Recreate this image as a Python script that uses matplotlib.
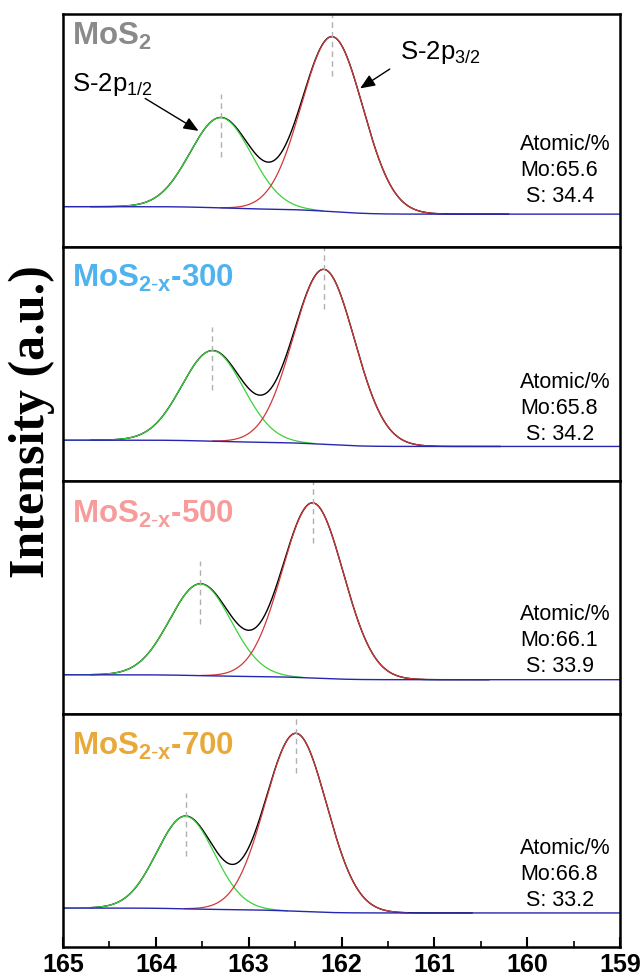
import matplotlib
matplotlib.use("Agg")
import matplotlib.pyplot as plt
from matplotlib.ticker import MultipleLocator
import numpy as np

plt.rcParams['font.family'] = ['Liberation Sans', 'DejaVu Sans']
plt.rcParams['mathtext.fontset'] = 'custom'
plt.rcParams['mathtext.rm'] = 'Liberation Sans'
plt.rcParams['mathtext.bf'] = 'Liberation Sans:bold'
plt.rcParams['mathtext.it'] = 'Liberation Sans:italic'

# --- data (binding energy in eV, intensity in a.u.) ---
sample_labels = [r"MoS$_{\mathbf{2}}$",
                 r"MoS$_{\mathbf{2\text{-}x}}$-300",
                 r"MoS$_{\mathbf{2\text{-}x}}$-500",
                 r"MoS$_{\mathbf{2\text{-}x}}$-700"]
label_colors = ["#8a8a8a", "#4fb3f0", "#f79b9b", "#e9a93a"]

p12_center = [163.30, 163.39, 163.52, 163.68]   # S-2p1/2
p12_height = [0.387, 0.388, 0.393, 0.397]
p12_sigma = [0.33, 0.33, 0.33, 0.31]
p32_center = [162.10, 162.19, 162.31, 162.49]   # S-2p3/2
p32_height = [0.750, 0.750, 0.751, 0.763]
p32_sigma = [0.33, 0.33, 0.33, 0.33]
bg_high = [0.174, 0.173, 0.167, 0.167]          # background at 165 eV
bg_low = [0.142, 0.146, 0.146, 0.146]           # background at 159 eV

mo_percent = ["65.6", "65.8", "66.1", "66.8"]
s_percent = ["34.4", "34.2", "33.9", "33.2"]

x_ticks = [165, 164, 163, 162, 161, 160, 159]

# --- layout / style ---
label_y = [0.867, 0.828, 0.820, 0.824]
atomic_y = [0.194, 0.172, 0.177, 0.174]   # baseline of the last text line


def gauss(x, c, h, s):
    return h * np.exp(-(x - c) ** 2 / (2 * s ** 2))


def shirley(x, peaks, high, low):
    # x runs from high BE to low BE; integrate from the low BE end
    cum = np.cumsum(peaks[::-1])[::-1]
    return low + (high - low) * cum / cum[0]


fig, axes = plt.subplots(4, 1, figsize=(6.41, 9.76), dpi=100, sharex=True)
fig.subplots_adjust(left=63 / 641, right=620 / 641, top=1 - 14 / 976,
                    bottom=1 - 947 / 976, hspace=0)

x = np.linspace(165, 159, 1500)

for i, ax in enumerate(axes):
    g = gauss(x, p12_center[i], p12_height[i], p12_sigma[i])
    r = gauss(x, p32_center[i], p32_height[i], p32_sigma[i])
    bg = shirley(x, g + r, bg_high[i], bg_low[i])

    # drawn ranges of each fitted curve
    m_sum = (x <= 164.7) & (x >= p32_center[i] - 1.9)
    m_g = x >= p12_center[i] - 1.1
    m_r = (x <= p32_center[i] + 1.2) & (x >= p32_center[i] - 1.2)

    ax.plot(x[m_sum], (g + r + bg)[m_sum], color="black", lw=1.0)
    ax.plot(x[m_g], (g + bg)[m_g], color="#3ad23a", lw=0.9)
    ax.plot(x[m_r], (r + bg)[m_r], color="#d03838", lw=0.9)
    ax.plot(x, bg, color="#2626b0", lw=1.0)

    for c, h, s in [(p12_center[i], p12_height[i], p12_sigma[i]),
                    (p32_center[i], p32_height[i], p32_sigma[i])]:
        top = h + np.interp(c, x[::-1], bg[::-1])
        ax.vlines(c, top - 0.17, min(top + 0.10, 1.0), colors="#b0b0b0",
                  linestyles=(0, (4, 3)), lw=1.0)

    ax.text(0.016, label_y[i], sample_labels[i], transform=ax.transAxes,
            fontsize=22.5, fontweight="bold", color=label_colors[i],
            ha="left", va="baseline")

    ax.text(0.8205, atomic_y[i],
            "Atomic/%\nMo:" + mo_percent[i] + "\n S: " + s_percent[i],
            transform=ax.transAxes, fontsize=15.5, ha="left", va="baseline",
            linespacing=1.32)

    ax.set_xlim(165, 159)
    ax.set_ylim(0, 1)
    ax.set_yticks([])
    for sp in ax.spines.values():
        sp.set_linewidth(1.8)
    ax.tick_params(axis="x", which="both", direction="in", bottom=(i == 3),
                   top=False, labelbottom=(i == 3))

ax0 = axes[0]
ax0.text(164.90, 0.671, r"S-2p$_{\mathrm{1/2}}$", fontsize=18.5, ha="left",
         va="baseline")
ax0.annotate("", xy=(163.54, 0.499), xytext=(164.115, 0.638),
             arrowprops=dict(arrowstyle="-|>,head_length=0.6,head_width=0.25",
                             color="black", lw=1.0, mutation_scale=15,
                             shrinkA=0, shrinkB=0))
ax0.text(161.37, 0.806, r"S-2p$_{\mathrm{3/2}}$", fontsize=18.5, ha="left",
         va="baseline")
ax0.annotate("", xy=(161.80, 0.681), xytext=(161.48, 0.764),
             arrowprops=dict(arrowstyle="-|>,head_length=0.6,head_width=0.25",
                             color="black", lw=1.0, mutation_scale=15,
                             shrinkA=0, shrinkB=0))

axb = axes[-1]
axb.set_xticks(x_ticks)
axb.xaxis.set_minor_locator(MultipleLocator(0.5))
axb.tick_params(axis="x", which="major", length=7, width=1.5, labelsize=18,
                pad=4)
axb.tick_params(axis="x", which="minor", length=4, width=1.2)
for lab in axb.get_xticklabels():
    lab.set_fontweight("bold")

fig.text(32 / 641, 1 - 422 / 976, "Intensity (a.u.)", rotation=90,
         fontsize=36, fontweight="bold", family="Liberation Serif",
         ha="center", va="center")

fig.savefig("out.png", dpi=100)
